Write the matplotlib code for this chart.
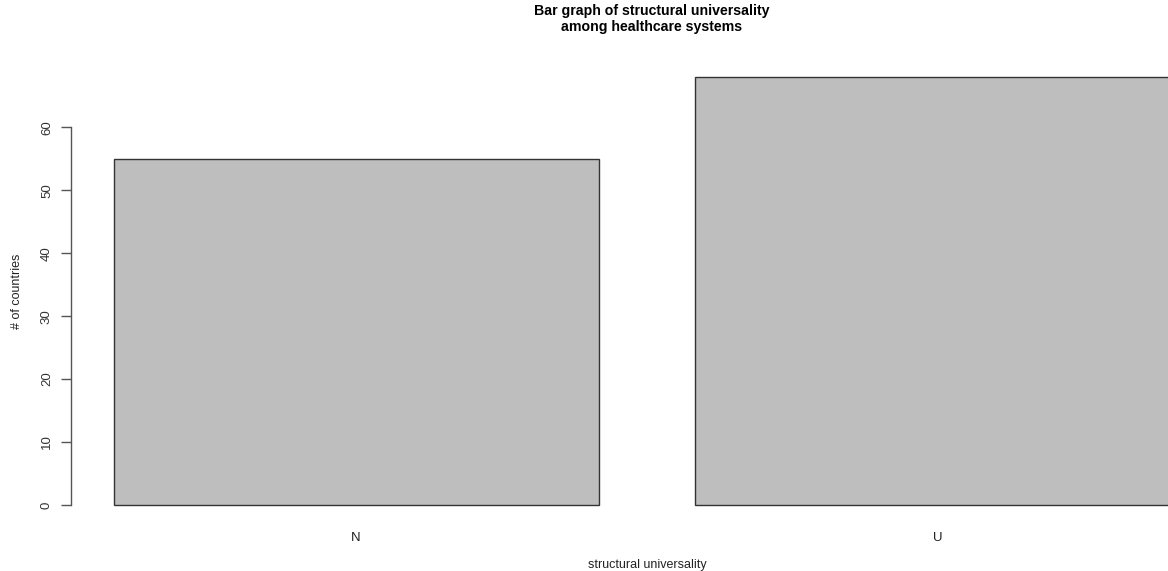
import matplotlib
matplotlib.use("Agg")
import matplotlib.pyplot as plt

categories = ["N", "U"]
counts = [55, 68]
yticks = [0, 10, 20, 30, 40, 50, 60]
title = "Bar graph of structural universality\namong healthcare systems"
xlabel = "structural universality"
ylabel = "# of countries"

plt.rcParams['font.family'] = ['Liberation Sans', 'DejaVu Sans']

W, H = 1168, 571
fig = plt.figure(figsize=(W / 100, H / 100), dpi=100)
# plot region in pixels (R style), right side extends past figure edge
left_px, right_px, top_px, bottom_px = 71, 1223, 60, 522
ax = fig.add_axes([left_px / W, (H - bottom_px) / H,
                   (right_px - left_px) / W, (bottom_px - top_px) / H])

centers = [0.7, 1.9]
ax.bar(centers, counts, width=1.0, color="#bebebe", edgecolor="#333333", linewidth=1.0)
ax.set_xlim(0.112, 2.488)
ax.set_ylim(-0.04 * 68, 68 * 1.04)

for s in ["top", "right", "bottom"]:
    ax.spines[s].set_visible(False)
ax.spines["left"].set_bounds(0, 60)
ax.spines["left"].set_color("#555555")
ax.spines["left"].set_linewidth(1.0)

ax.set_yticks(yticks)
ax.set_yticklabels([str(v) for v in yticks], rotation=90, va="center", fontsize=9.5, color="#333333")
ax.tick_params(axis="y", length=7, width=1.0, color="#555555", pad=6)

ax.set_xticks(centers)
ax.set_xticklabels(categories, fontsize=9.5, color="#222222")
ax.tick_params(axis="x", length=0, pad=7)

fig.text(652 / W, 1 - 19 / H, title, ha="center", va="center", fontsize=10.2,
         fontweight="bold", linespacing=1.15)
fig.text(647 / W, 1 - 565 / H, xlabel, ha="center", va="center", fontsize=9, color="#222222")
fig.text(17 / W, 1 - 291 / H, ylabel, ha="center", va="center", rotation=90,
         fontsize=9, color="#222222")

fig.savefig("out.png", dpi=100)
